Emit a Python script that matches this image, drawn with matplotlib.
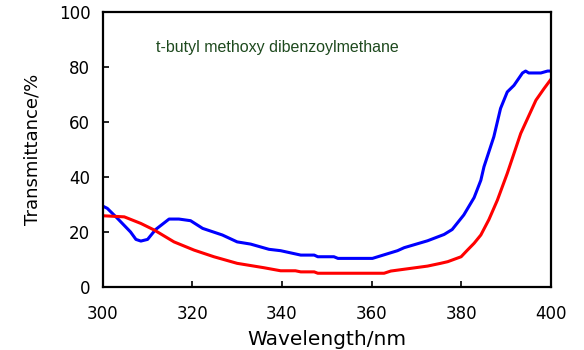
import matplotlib
matplotlib.use("Agg")
import matplotlib.pyplot as plt

blue_x = [300, 301, 303.3, 306.2, 307.4, 308.5, 310, 311.8, 314.8, 317, 319.6, 322.3, 326.7, 330, 333,
          337.1, 339.7, 344.2, 347.2, 348, 351.6, 352.5, 360.2, 362, 365.8, 367.3, 372.5, 376.2, 378,
          380.6, 382.9, 384.4, 385.1, 387.3, 388.8, 390.3, 391.8, 393.7, 394.4, 395.1, 397.8, 399.3, 400]
blue_y = [29.4, 28.6, 24.9, 20.0, 17.3, 16.7, 17.3, 20.9, 24.7, 24.7, 24.1, 21.3, 18.9, 16.4, 15.6,
          13.7, 13.2, 11.6, 11.6, 11.0, 11.0, 10.4, 10.4, 11.3, 13.2, 14.3, 16.8, 19.1, 20.9,
          26.2, 32.5, 38.8, 43.7, 54.6, 64.9, 70.9, 73.3, 77.8, 78.5, 77.8, 77.8, 78.5, 78.5]

red_x = [300, 304.8, 308.5, 311.5, 315.9, 320.4, 324.8, 330, 336, 339.7, 343, 344.2, 347.2, 348,
         362.8, 364.3, 372.5, 375.4, 377, 380, 381.4, 382.9, 384.4, 386.2, 388.1, 390.3, 393.3,
         396.7, 398.5, 400]
red_y = [25.9, 25.5, 23.1, 20.7, 16.4, 13.4, 11.0, 8.6, 7.0, 5.9, 5.9, 5.5, 5.5, 5.0,
         5.0, 5.8, 7.6, 8.6, 9.2, 11.0, 13.4, 15.9, 18.9, 24.5, 31.6, 41.3, 55.8,
         67.9, 72.1, 75.4]

x_ticks = [300, 320, 340, 360, 380, 400]
y_ticks = [0, 20, 40, 60, 80, 100]

fig = plt.figure(figsize=(5.84, 3.5), dpi=100)
ax = fig.add_axes([0.176, 0.18, 0.767, 0.786])
ax.plot(blue_x, blue_y, color="#0000ff", lw=2.2, solid_joinstyle="round")
ax.plot(red_x, red_y, color="#ff0000", lw=2.2, solid_joinstyle="round")
ax.set_xlim(300, 400)
ax.set_ylim(0, 100)
ax.set_xticks(x_ticks)
ax.set_yticks(y_ticks)
ax.tick_params(direction="in", length=4, width=1.2, labelsize=12,
               top=False, right=False)
ax.tick_params(axis="x", pad=13)
ax.tick_params(axis="y", pad=9)
for s in ax.spines.values():
    s.set_linewidth(1.6)
for lab in ax.get_xticklabels() + ax.get_yticklabels():
    lab.set_family("DejaVu Sans")
ax.set_xlabel("Wavelength/nm", fontsize=14.5, family="DejaVu Sans", labelpad=5)
ax.set_ylabel("Transmittance/%", fontsize=13, family="DejaVu Sans", labelpad=12)
ax.text(0.118, 0.855, "t-butyl methoxy dibenzoylmethane", transform=ax.transAxes,
        fontsize=11.5, family="Liberation Sans", color="#1e4a1e")
fig.savefig("out.png", dpi=100)
